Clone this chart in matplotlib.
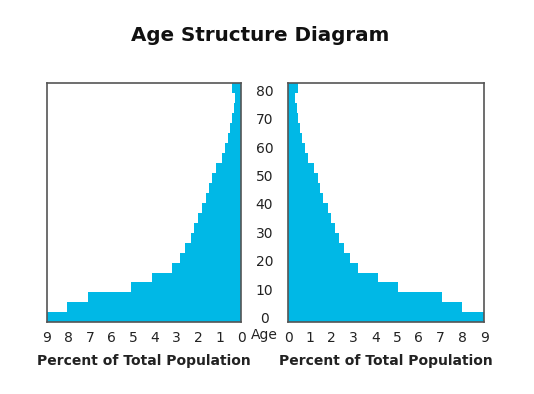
import matplotlib.pyplot as plt
import matplotlib.transforms as mtransforms
import numpy as np

# age groups (bottom edge of each bar, years) and bar height
age_start = [0, 3.5, 7, 10.5, 14, 17.5, 21, 24.5, 28, 31.5, 35, 38.5,
             42, 45.5, 49, 52.5, 56, 59.5, 63, 66.5, 70, 73.5, 77, 80.5]
age_step = 3.5

# percent of total population in each group (left and right panels)
left_pct = [9.0, 8.04, 7.1, 5.09, 4.14, 3.21, 2.85, 2.58, 2.33, 2.16, 1.98, 1.79,
            1.64, 1.47, 1.34, 1.17, 0.90, 0.74, 0.62, 0.51, 0.43, 0.35, 0.28, 0.40]
right_pct = [9.0, 7.97, 7.05, 5.06, 4.11, 3.22, 2.84, 2.58, 2.33, 2.15, 1.96, 1.81,
             1.61, 1.46, 1.35, 1.20, 0.92, 0.77, 0.64, 0.54, 0.46, 0.40, 0.31, 0.43]

pct_ticks = [0, 1, 2, 3, 4, 5, 6, 7, 8, 9]
age_ticks = [0, 10, 20, 30, 40, 50, 60, 70, 80]

bar_color = '#00B8E6'
edge_color = '#555555'
txt_color = '#222222'

fig = plt.figure(figsize=(5.34, 3.94), dpi=100)
ax_l = fig.add_axes([0.0875, 0.182, 0.364, 0.6066])
ax_r = fig.add_axes([0.540, 0.182, 0.3665, 0.6066])

for ax, pct in [(ax_l, left_pct), (ax_r, right_pct)]:
    ax.barh(age_start, pct, height=age_step, align='edge', color=bar_color, linewidth=0)
    ax.set_ylim(0, 84)
    ax.set_xticks(pct_ticks)
    ax.set_yticks([])
    ax.tick_params(axis='x', length=0, pad=6, labelsize=10, labelcolor=txt_color)
    ax.set_xlabel('Percent of Total Population', fontsize=10, fontweight='bold',
                  color=txt_color, labelpad=7)
    for s in ax.spines.values():
        s.set_color(edge_color)
        s.set_linewidth(1.2)

ax_l.set_xlim(9, 0)
ax_r.set_xlim(0, 9)

# age labels in the gap between the two panels
trans = mtransforms.blended_transform_factory(fig.transFigure, ax_l.transData)
trans = trans + mtransforms.ScaledTranslation(0, 0.03, fig.dpi_scale_trans)
for a in age_ticks:
    fig.text(0.495, a, str(a), transform=trans, ha='center', va='center',
             fontsize=10, color=txt_color)
fig.text(0.495, (394 - 335) / 394, 'Age', ha='center', va='center',
         fontsize=10, color=txt_color)

fig.suptitle('Age Structure Diagram', x=0.487, y=0.935, fontsize=14.3,
             fontweight='bold', color='#111111')

fig.savefig('out.png', dpi=100)
